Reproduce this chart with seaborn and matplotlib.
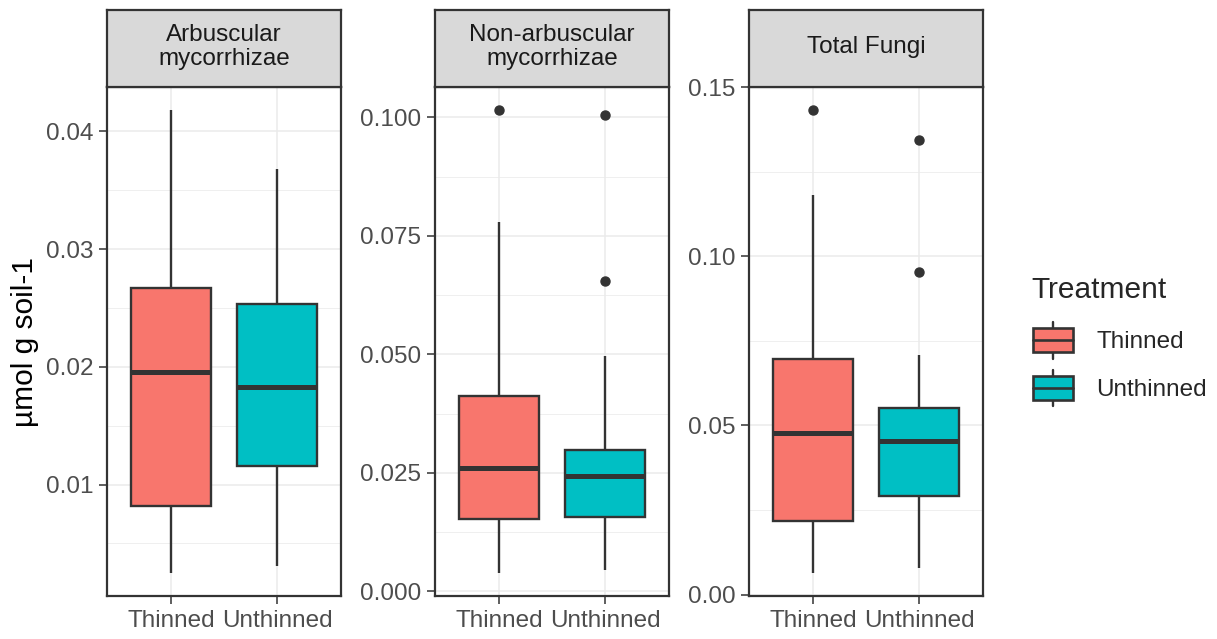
import numpy as np
import pandas as pd
import matplotlib
matplotlib.use("Agg")
import matplotlib.pyplot as plt
import seaborn as sns
from matplotlib.legend_handler import HandlerBase
from matplotlib.patches import Rectangle, Patch
from matplotlib.lines import Line2D

# ---------------- data ----------------
panels = ["Arbuscular\nmycorrhizae", "Non-arbuscular\nmycorrhizae", "Total Fungi"]
treatments = ["Thinned", "Unthinned"]
colors = ["#F8766D", "#00BFC4"]

# five-number summaries: lower whisker, Q1, median, Q3, upper whisker
amf_thinned = [0.0025, 0.0082, 0.0196, 0.0267, 0.0418]
amf_unthinned = [0.0031, 0.0116, 0.0183, 0.0253, 0.0368]
amf_out_thinned = []
amf_out_unthinned = []

nam_thinned = [0.0039, 0.0153, 0.0260, 0.0411, 0.0779]
nam_unthinned = [0.0044, 0.0157, 0.0244, 0.0299, 0.0496]
nam_out_thinned = [0.1015]
nam_out_unthinned = [0.0654, 0.1004]

tf_thinned = [0.0064, 0.0218, 0.0478, 0.0697, 0.1182]
tf_unthinned = [0.0078, 0.0292, 0.0454, 0.0552, 0.0709]
tf_out_thinned = [0.1432]
tf_out_unthinned = [0.0953, 0.1344]

y_ticks = [[0.01, 0.02, 0.03, 0.04],
           [0.0, 0.025, 0.05, 0.075, 0.1],
           [0.0, 0.05, 0.10, 0.15]]
y_ticklabels = [["0.01", "0.02", "0.03", "0.04"],
                ["0.000", "0.025", "0.050", "0.075", "0.100"],
                ["0.00", "0.05", "0.10", "0.15"]]
y_minor = [[0.005, 0.015, 0.025, 0.035],
           [0.0125, 0.0375, 0.0625, 0.0875],
           [0.025, 0.075, 0.125]]

summaries = {
    panels[0]: {"Thinned": (amf_thinned, amf_out_thinned), "Unthinned": (amf_unthinned, amf_out_unthinned)},
    panels[1]: {"Thinned": (nam_thinned, nam_out_thinned), "Unthinned": (nam_unthinned, nam_out_unthinned)},
    panels[2]: {"Thinned": (tf_thinned, tf_out_thinned), "Unthinned": (tf_unthinned, tf_out_unthinned)},
}


def observations(five, outliers):
    """Observations whose linear-interpolated quartiles equal the read summary."""
    low, q1, med, q3, high = five
    r = len(outliers) + 1
    return [low] + [q1] * r + [med] * r + [q3] * r + [high] + list(outliers)


rows = []
for p in panels:
    for t in treatments:
        five, outs = summaries[p][t]
        for v in observations(five, outs):
            rows.append({"panel": p, "Treatment": t, "value": v})
df = pd.DataFrame(rows)

# ---------------- style ----------------
sns.set_theme(style="white")
plt.rcParams["font.family"] = ["Liberation Sans", "DejaVu Sans"]

W, H = 1217, 639
fig = plt.figure(figsize=(W / 100, H / 100), dpi=100)
fig.patch.set_facecolor("white")

DARK = "#333333"
GRID = "#EBEBEB"
FS = 17.5
lefts = [107, 435, 749]
pw = 234
top_px, bot_px, strip_top = 87, 596, 10

palette = dict(zip(treatments, colors))

for i, p in enumerate(panels):
    ax = fig.add_axes([lefts[i] / W, (H - bot_px) / H, pw / W, (bot_px - top_px) / H])
    sub = df[df["panel"] == p]
    sns.boxplot(data=sub, x="Treatment", y="value", hue="Treatment", order=treatments,
                hue_order=treatments, palette=palette, width=0.75, linewidth=1.7,
                linecolor=DARK, showcaps=False, legend=False, saturation=1,
                fliersize=6.5,
                flierprops=dict(marker="o", markerfacecolor=DARK, markeredgecolor=DARK),
                medianprops=dict(linewidth=3.6, color=DARK),
                ax=ax)
    vals = sub["value"].to_numpy()
    lo, hi = vals.min(), vals.max()
    pad = 0.05 * (hi - lo)
    ax.set_ylim(lo - pad, hi + pad)
    ax.set_xlim(-0.6, 1.6)
    ax.set_yticks(y_ticks[i])
    ax.set_yticklabels(y_ticklabels[i])
    ax.set_yticks(y_minor[i], minor=True)
    ax.set_xlabel("")
    ax.set_ylabel("")
    ax.set_axisbelow(True)
    ax.grid(True, which="major", color=GRID, linewidth=1.1)
    ax.grid(True, which="minor", axis="y", color=GRID, linewidth=0.55)
    ax.set_facecolor("white")
    for s in ax.spines.values():
        s.set_visible(True)
        s.set_color(DARK)
        s.set_linewidth(1.6)
    ax.tick_params(axis="both", which="major", direction="out", length=5.8, width=1.1,
                   color=DARK, labelsize=FS, labelcolor="#4D4D4D", pad=4,
                   bottom=True, left=True)
    ax.tick_params(axis="both", which="minor", length=0, left=False, bottom=False)

    # facet strip
    sax = fig.add_axes([lefts[i] / W, (H - top_px) / H, pw / W, (top_px - strip_top) / H])
    sax.set_facecolor("#D9D9D9")
    sax.set_xticks([])
    sax.set_yticks([])
    for s in sax.spines.values():
        s.set_color(DARK)
        s.set_linewidth(1.6)
    sax.text(0.5, 0.52, p, ha="center", va="center", fontsize=FS, color="#1A1A1A",
             linespacing=1.13, transform=sax.transAxes)

fig.text(25 / W, 1 - ((top_px + bot_px) / 2) / H, "µmol g soil-1", rotation=90,
         ha="center", va="center", fontsize=21.5, color="black")


class BoxKeyHandler(HandlerBase):
    def create_artists(self, legend, orig_handle, xdescent, ydescent, width, height,
                       fontsize, trans):
        fc = orig_handle.get_facecolor()
        cx = -xdescent + width / 2
        y0 = -ydescent
        whisk = Line2D([cx, cx], [y0, y0 + height], color=DARK, lw=1.7, transform=trans)
        rect = Rectangle((-xdescent + width * 0.04, y0 + height * 0.18), width * 0.92,
                         height * 0.64, facecolor=fc, edgecolor=DARK, lw=1.9,
                         transform=trans)
        med = Line2D([-xdescent + width * 0.04, -xdescent + width * 0.96],
                     [y0 + height / 2, y0 + height / 2], color=DARK, lw=1.9,
                     transform=trans)
        return [whisk, rect, med]


handles = [Patch(facecolor=c, edgecolor=DARK, label=t) for t, c in zip(treatments, colors)]
leg = fig.legend(handles=handles, labels=treatments, title="Treatment",
                 loc="upper left", bbox_to_anchor=(1031 / W, 1 - 276 / H),
                 frameon=False, fontsize=FS, title_fontsize=21.5,
                 handler_map={Patch: BoxKeyHandler()},
                 handlelength=1.8, handleheight=1.95, handletextpad=0.9,
                 labelspacing=0.45, borderpad=0, borderaxespad=0, alignment="left")
leg._legend_box.sep = leg._legend_box.sep + 5

fig.savefig("out.png", dpi=100, facecolor="white")
